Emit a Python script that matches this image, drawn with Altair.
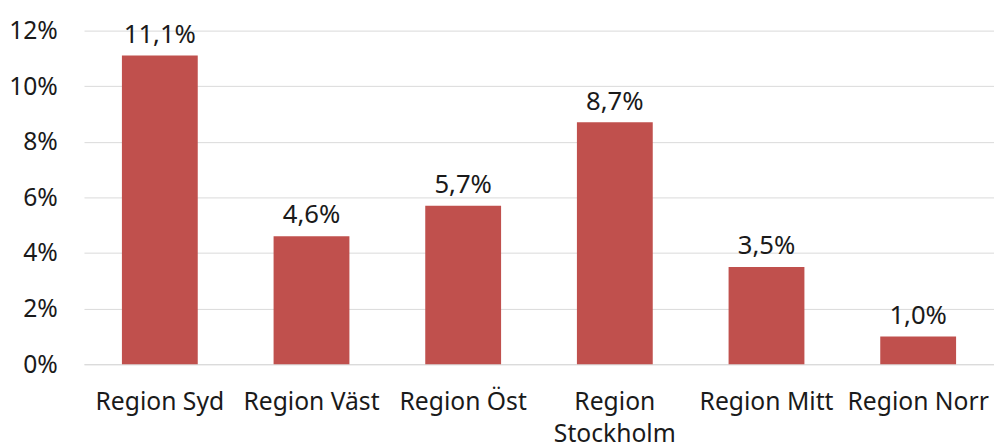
import altair as alt
import pandas as pd

regions = ["Region Syd", "Region Väst", "Region Öst", "Region Stockholm", "Region Mitt", "Region Norr"]
values = [11.1, 4.6, 5.7, 8.7, 3.5, 1.0]
y_ticks = [0, 2, 4, 6, 8, 10, 12]

df = pd.DataFrame({"region": regions, "value": values})

FONT = "Noto Sans"
TXT = "#1a1a1a"

base = alt.Chart(df).encode(
    x=alt.X(
        "region:N",
        sort=regions,
        scale=alt.Scale(paddingInner=0.5, paddingOuter=0.25, round=False),
        axis=alt.Axis(
            title=None,
            labelAngle=0,
            ticks=False,
            domainColor="#d9d9d9",
            labelFont=FONT,
            labelFontSize=25,
            labelColor=TXT,
            labelPadding=26,
            labelLineHeight=32,
            labelLimit=300,
            labelExpr="datum.label == 'Region Stockholm' ? ['Region', 'Stockholm'] : datum.label",
        ),
    ),
    y=alt.Y(
        "value:Q",
        scale=alt.Scale(domain=[0, 12], nice=False),
        axis=alt.Axis(
            title=None,
            values=y_ticks,
            ticks=False,
            domain=False,
            grid=True,
            gridColor="#d9d9d9",
            labelFont=FONT,
            labelFontSize=25,
            labelColor=TXT,
            labelPadding=27,
            labelExpr="datum.value + '%'",
        ),
    ),
)

bars = base.mark_bar(color="#C0504D")

labels = base.mark_text(
    font=FONT, fontSize=26, color=TXT, baseline="alphabetic", dy=-13
).transform_calculate(
    lbl="replace(format(datum.value, '.1f'), '.', ',') + '%'"
).encode(text="lbl:N")

chart = (
    (bars + labels)
    .properties(
        width=922,
        height=338,
        autosize=alt.AutoSizeParams(type="none"),
        padding={"left": 77, "top": 20, "right": 0, "bottom": 82},
    )
    .configure_view(stroke=None)
)

chart.save("out.html", embed_options={"renderer": "svg", "actions": False})
